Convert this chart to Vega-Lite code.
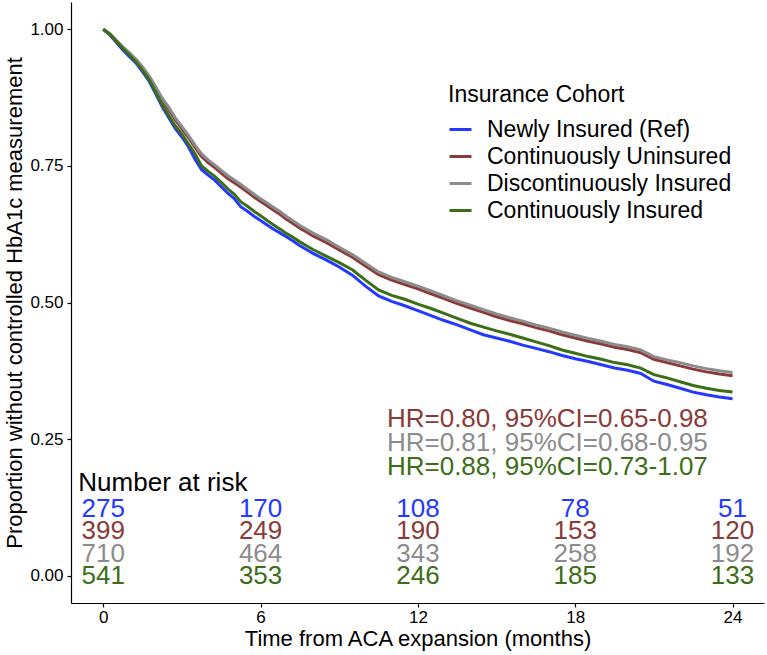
{
  "$schema": "https://vega.github.io/schema/vega-lite/v6.json",
  "width": 693,
  "height": 601,
  "autosize": {"type": "none"},
  "padding": {"left": 71, "top": 2, "right": 3, "bottom": 52},
  "config": {
    "view": {"stroke": null},
    "font": "Liberation Sans",
    "axis": {"grid": false, "domainColor": "black", "tickColor": "black", "labelColor": "black", "titleColor": "black", "titleFontWeight": "normal", "domainWidth": 1.2, "tickWidth": 1.2, "tickSize": 4}
  },
  "datasets": {
    "km": [
      {"t": 0, "Newly Insured (Ref)": 1, "Continuously Uninsured": 1, "Discontinuously Insured": 1, "Continuously Insured": 1},
      {"t": 0.25, "Newly Insured (Ref)": 0.990, "Continuously Uninsured": 0.991, "Discontinuously Insured": 0.992, "Continuously Insured": 0.991},
      {"t": 0.5, "Newly Insured (Ref)": 0.976, "Continuously Uninsured": 0.978, "Discontinuously Insured": 0.980, "Continuously Insured": 0.978},
      {"t": 0.75, "Newly Insured (Ref)": 0.962, "Continuously Uninsured": 0.966, "Discontinuously Insured": 0.968, "Continuously Insured": 0.965},
      {"t": 1.0, "Newly Insured (Ref)": 0.950, "Continuously Uninsured": 0.955, "Discontinuously Insured": 0.957, "Continuously Insured": 0.953},
      {"t": 1.25, "Newly Insured (Ref)": 0.938, "Continuously Uninsured": 0.943, "Discontinuously Insured": 0.945, "Continuously Insured": 0.940},
      {"t": 1.5, "Newly Insured (Ref)": 0.922, "Continuously Uninsured": 0.929, "Discontinuously Insured": 0.931, "Continuously Insured": 0.925},
      {"t": 1.75, "Newly Insured (Ref)": 0.905, "Continuously Uninsured": 0.913, "Discontinuously Insured": 0.915, "Continuously Insured": 0.908},
      {"t": 2.0, "Newly Insured (Ref)": 0.882, "Continuously Uninsured": 0.892, "Discontinuously Insured": 0.895, "Continuously Insured": 0.885},
      {"t": 2.25, "Newly Insured (Ref)": 0.858, "Continuously Uninsured": 0.871, "Discontinuously Insured": 0.874, "Continuously Insured": 0.862},
      {"t": 2.5, "Newly Insured (Ref)": 0.838, "Continuously Uninsured": 0.853, "Discontinuously Insured": 0.857, "Continuously Insured": 0.842},
      {"t": 2.75, "Newly Insured (Ref)": 0.818, "Continuously Uninsured": 0.834, "Discontinuously Insured": 0.838, "Continuously Insured": 0.823},
      {"t": 3.0, "Newly Insured (Ref)": 0.803, "Continuously Uninsured": 0.818, "Discontinuously Insured": 0.822, "Continuously Insured": 0.808},
      {"t": 3.25, "Newly Insured (Ref)": 0.785, "Continuously Uninsured": 0.802, "Discontinuously Insured": 0.806, "Continuously Insured": 0.790},
      {"t": 3.5, "Newly Insured (Ref)": 0.762, "Continuously Uninsured": 0.784, "Discontinuously Insured": 0.788, "Continuously Insured": 0.772},
      {"t": 3.75, "Newly Insured (Ref)": 0.743, "Continuously Uninsured": 0.767, "Discontinuously Insured": 0.772, "Continuously Insured": 0.750},
      {"t": 4.0, "Newly Insured (Ref)": 0.733, "Continuously Uninsured": 0.756, "Discontinuously Insured": 0.761, "Continuously Insured": 0.740},
      {"t": 4.25, "Newly Insured (Ref)": 0.724, "Continuously Uninsured": 0.747, "Discontinuously Insured": 0.752, "Continuously Insured": 0.731},
      {"t": 4.5, "Newly Insured (Ref)": 0.712, "Continuously Uninsured": 0.737, "Discontinuously Insured": 0.742, "Continuously Insured": 0.720},
      {"t": 4.75, "Newly Insured (Ref)": 0.700, "Continuously Uninsured": 0.727, "Discontinuously Insured": 0.732, "Continuously Insured": 0.708},
      {"t": 5.0, "Newly Insured (Ref)": 0.690, "Continuously Uninsured": 0.719, "Discontinuously Insured": 0.724, "Continuously Insured": 0.698},
      {"t": 5.25, "Newly Insured (Ref)": 0.675, "Continuously Uninsured": 0.711, "Discontinuously Insured": 0.716, "Continuously Insured": 0.684},
      {"t": 5.5, "Newly Insured (Ref)": 0.667, "Continuously Uninsured": 0.702, "Discontinuously Insured": 0.707, "Continuously Insured": 0.676},
      {"t": 5.75, "Newly Insured (Ref)": 0.658, "Continuously Uninsured": 0.693, "Discontinuously Insured": 0.698, "Continuously Insured": 0.667},
      {"t": 6.0, "Newly Insured (Ref)": 0.650, "Continuously Uninsured": 0.685, "Discontinuously Insured": 0.690, "Continuously Insured": 0.659},
      {"t": 6.25, "Newly Insured (Ref)": 0.642, "Continuously Uninsured": 0.677, "Discontinuously Insured": 0.682, "Continuously Insured": 0.650},
      {"t": 6.5, "Newly Insured (Ref)": 0.634, "Continuously Uninsured": 0.669, "Discontinuously Insured": 0.674, "Continuously Insured": 0.642},
      {"t": 6.75, "Newly Insured (Ref)": 0.627, "Continuously Uninsured": 0.661, "Discontinuously Insured": 0.666, "Continuously Insured": 0.634},
      {"t": 7.0, "Newly Insured (Ref)": 0.620, "Continuously Uninsured": 0.652, "Discontinuously Insured": 0.657, "Continuously Insured": 0.626},
      {"t": 7.25, "Newly Insured (Ref)": 0.612, "Continuously Uninsured": 0.644, "Discontinuously Insured": 0.649, "Continuously Insured": 0.619},
      {"t": 7.5, "Newly Insured (Ref)": 0.604, "Continuously Uninsured": 0.636, "Discontinuously Insured": 0.641, "Continuously Insured": 0.611},
      {"t": 7.75, "Newly Insured (Ref)": 0.597, "Continuously Uninsured": 0.629, "Discontinuously Insured": 0.634, "Continuously Insured": 0.604},
      {"t": 8.0, "Newly Insured (Ref)": 0.590, "Continuously Uninsured": 0.622, "Discontinuously Insured": 0.627, "Continuously Insured": 0.597},
      {"t": 8.5, "Newly Insured (Ref)": 0.578, "Continuously Uninsured": 0.610, "Discontinuously Insured": 0.615, "Continuously Insured": 0.585},
      {"t": 9.0, "Newly Insured (Ref)": 0.565, "Continuously Uninsured": 0.596, "Discontinuously Insured": 0.601, "Continuously Insured": 0.573},
      {"t": 9.5, "Newly Insured (Ref)": 0.550, "Continuously Uninsured": 0.583, "Discontinuously Insured": 0.588, "Continuously Insured": 0.560},
      {"t": 10.0, "Newly Insured (Ref)": 0.530, "Continuously Uninsured": 0.567, "Discontinuously Insured": 0.572, "Continuously Insured": 0.541},
      {"t": 10.5, "Newly Insured (Ref)": 0.512, "Continuously Uninsured": 0.551, "Discontinuously Insured": 0.556, "Continuously Insured": 0.523},
      {"t": 11.0, "Newly Insured (Ref)": 0.502, "Continuously Uninsured": 0.541, "Discontinuously Insured": 0.546, "Continuously Insured": 0.513},
      {"t": 11.5, "Newly Insured (Ref)": 0.494, "Continuously Uninsured": 0.533, "Discontinuously Insured": 0.538, "Continuously Insured": 0.506},
      {"t": 12.0, "Newly Insured (Ref)": 0.485, "Continuously Uninsured": 0.525, "Discontinuously Insured": 0.530, "Continuously Insured": 0.497},
      {"t": 12.5, "Newly Insured (Ref)": 0.476, "Continuously Uninsured": 0.516, "Discontinuously Insured": 0.521, "Continuously Insured": 0.489},
      {"t": 13.0, "Newly Insured (Ref)": 0.467, "Continuously Uninsured": 0.507, "Discontinuously Insured": 0.512, "Continuously Insured": 0.480},
      {"t": 13.5, "Newly Insured (Ref)": 0.459, "Continuously Uninsured": 0.498, "Discontinuously Insured": 0.503, "Continuously Insured": 0.471},
      {"t": 14.0, "Newly Insured (Ref)": 0.450, "Continuously Uninsured": 0.490, "Discontinuously Insured": 0.495, "Continuously Insured": 0.462},
      {"t": 14.5, "Newly Insured (Ref)": 0.441, "Continuously Uninsured": 0.482, "Discontinuously Insured": 0.487, "Continuously Insured": 0.455},
      {"t": 15.0, "Newly Insured (Ref)": 0.435, "Continuously Uninsured": 0.474, "Discontinuously Insured": 0.479, "Continuously Insured": 0.448},
      {"t": 15.5, "Newly Insured (Ref)": 0.429, "Continuously Uninsured": 0.467, "Discontinuously Insured": 0.472, "Continuously Insured": 0.442},
      {"t": 16.0, "Newly Insured (Ref)": 0.422, "Continuously Uninsured": 0.461, "Discontinuously Insured": 0.466, "Continuously Insured": 0.435},
      {"t": 16.5, "Newly Insured (Ref)": 0.416, "Continuously Uninsured": 0.454, "Discontinuously Insured": 0.459, "Continuously Insured": 0.428},
      {"t": 17.0, "Newly Insured (Ref)": 0.410, "Continuously Uninsured": 0.448, "Discontinuously Insured": 0.453, "Continuously Insured": 0.421},
      {"t": 17.5, "Newly Insured (Ref)": 0.403, "Continuously Uninsured": 0.441, "Discontinuously Insured": 0.446, "Continuously Insured": 0.413},
      {"t": 18.0, "Newly Insured (Ref)": 0.397, "Continuously Uninsured": 0.435, "Discontinuously Insured": 0.440, "Continuously Insured": 0.407},
      {"t": 18.5, "Newly Insured (Ref)": 0.392, "Continuously Uninsured": 0.429, "Discontinuously Insured": 0.434, "Continuously Insured": 0.401},
      {"t": 19.0, "Newly Insured (Ref)": 0.386, "Continuously Uninsured": 0.424, "Discontinuously Insured": 0.429, "Continuously Insured": 0.396},
      {"t": 19.5, "Newly Insured (Ref)": 0.380, "Continuously Uninsured": 0.418, "Discontinuously Insured": 0.423, "Continuously Insured": 0.390},
      {"t": 20.0, "Newly Insured (Ref)": 0.376, "Continuously Uninsured": 0.414, "Discontinuously Insured": 0.419, "Continuously Insured": 0.386},
      {"t": 20.5, "Newly Insured (Ref)": 0.370, "Continuously Uninsured": 0.408, "Discontinuously Insured": 0.413, "Continuously Insured": 0.380},
      {"t": 21.0, "Newly Insured (Ref)": 0.356, "Continuously Uninsured": 0.396, "Discontinuously Insured": 0.401, "Continuously Insured": 0.368},
      {"t": 21.5, "Newly Insured (Ref)": 0.350, "Continuously Uninsured": 0.390, "Discontinuously Insured": 0.395, "Continuously Insured": 0.362},
      {"t": 22.0, "Newly Insured (Ref)": 0.343, "Continuously Uninsured": 0.384, "Discontinuously Insured": 0.390, "Continuously Insured": 0.355},
      {"t": 22.5, "Newly Insured (Ref)": 0.336, "Continuously Uninsured": 0.378, "Discontinuously Insured": 0.384, "Continuously Insured": 0.348},
      {"t": 23.0, "Newly Insured (Ref)": 0.331, "Continuously Uninsured": 0.373, "Discontinuously Insured": 0.379, "Continuously Insured": 0.343},
      {"t": 23.5, "Newly Insured (Ref)": 0.327, "Continuously Uninsured": 0.369, "Discontinuously Insured": 0.375, "Continuously Insured": 0.339},
      {"t": 24.0, "Newly Insured (Ref)": 0.324, "Continuously Uninsured": 0.366, "Discontinuously Insured": 0.372, "Continuously Insured": 0.336}
    ],
    "risk": [
      {"cohort": "Newly Insured (Ref)", "time": 0, "n": 275},
      {"cohort": "Newly Insured (Ref)", "time": 6, "n": 170},
      {"cohort": "Newly Insured (Ref)", "time": 12, "n": 108},
      {"cohort": "Newly Insured (Ref)", "time": 18, "n": 78},
      {"cohort": "Newly Insured (Ref)", "time": 24, "n": 51},
      {"cohort": "Continuously Uninsured", "time": 0, "n": 399},
      {"cohort": "Continuously Uninsured", "time": 6, "n": 249},
      {"cohort": "Continuously Uninsured", "time": 12, "n": 190},
      {"cohort": "Continuously Uninsured", "time": 18, "n": 153},
      {"cohort": "Continuously Uninsured", "time": 24, "n": 120},
      {"cohort": "Discontinuously Insured", "time": 0, "n": 710},
      {"cohort": "Discontinuously Insured", "time": 6, "n": 464},
      {"cohort": "Discontinuously Insured", "time": 12, "n": 343},
      {"cohort": "Discontinuously Insured", "time": 18, "n": 258},
      {"cohort": "Discontinuously Insured", "time": 24, "n": 192},
      {"cohort": "Continuously Insured", "time": 0, "n": 541},
      {"cohort": "Continuously Insured", "time": 6, "n": 353},
      {"cohort": "Continuously Insured", "time": 12, "n": 246},
      {"cohort": "Continuously Insured", "time": 18, "n": 185},
      {"cohort": "Continuously Insured", "time": 24, "n": 133}
    ],
    "hr": [
      {"cohort": "Continuously Uninsured", "label": "HR=0.80, 95%CI=0.65-0.98"},
      {"cohort": "Discontinuously Insured", "label": "HR=0.81, 95%CI=0.68-0.95"},
      {"cohort": "Continuously Insured", "label": "HR=0.88, 95%CI=0.73-1.07"}
    ]
  },
  "layer": [
    {
      "layer": [
        {
          "data": {"name": "km"},
          "transform": [{"fold": ["Newly Insured (Ref)", "Continuously Uninsured", "Discontinuously Insured", "Continuously Insured"], "as": ["cohort", "surv"]}],
          "mark": {"type": "line", "interpolate": "linear", "strokeWidth": 3},
          "encoding": {
            "x": {"field": "t", "type": "quantitative", "title": "Time from ACA expansion (months)",
                  "scale": {"domain": [-1.23, 25.2], "nice": false, "zero": false},
                  "axis": {"values": [0, 6, 12, 18, 24], "labelFontSize": 17, "titleFontSize": 22, "labelPadding": 2, "titlePadding": 3, "labelFlush": false}},
            "y": {"field": "surv", "type": "quantitative", "title": "Proportion without controlled HbA1c measurement",
                  "scale": {"domain": [-0.05, 1.05], "nice": false, "zero": false},
                  "axis": {"values": [0, 0.25, 0.5, 0.75, 1], "format": ".2f", "labelFontSize": 17, "titleFontSize": 22, "labelPadding": 4, "titlePadding": 3, "labelFlush": false}},
            "color": {"field": "cohort", "type": "nominal",
                      "scale": {"domain": ["Newly Insured (Ref)", "Continuously Uninsured", "Discontinuously Insured", "Continuously Insured"], "range": ["#2439FF", "#8B3A3A", "#8C8C8C", "#3B6E16"]},
                      "legend": {"title": "Insurance Cohort", "orient": "none", "legendX": 377, "legendY": 82, "symbolType": "stroke", "symbolSize": 484, "symbolStrokeWidth": 3, "titleFontSize": 23, "titleFontWeight": "normal", "titleColor": "black", "labelFontSize": 23, "labelColor": "black", "labelOffset": 14, "rowPadding": 2, "titlePadding": 10, "labelLimit": 400}}
          }
        },
        {
          "data": {"values": [{}]},
          "mark": {"type": "text", "text": "Number at risk", "align": "left", "baseline": "middle", "fontSize": 26, "color": "black"},
          "encoding": {"x": {"datum": -0.95}, "y": {"datum": 0.17}}
        }
      ]
    },
    {
      "data": {"name": "risk"},
      "mark": {"type": "text", "align": "center", "baseline": "middle", "fontSize": 26},
      "encoding": {
        "x": {"field": "time", "type": "quantitative", "title": "Time from ACA expansion (months)", "scale": {"domain": [-1.23, 25.2], "nice": false, "zero": false}},
        "y": {"field": "cohort", "type": "nominal", "scale": {"type": "point", "domain": ["Newly Insured (Ref)", "Continuously Uninsured", "Discontinuously Insured", "Continuously Insured"], "range": [507, 574], "padding": 0}, "axis": null},
        "text": {"field": "n", "type": "quantitative"},
        "color": {"field": "cohort", "type": "nominal", "scale": {"domain": ["Newly Insured (Ref)", "Continuously Uninsured", "Discontinuously Insured", "Continuously Insured"], "range": ["#2439FF", "#8B3A3A", "#8C8C8C", "#3B6E16"]}, "legend": null}
      }
    },
    {
      "data": {"name": "hr"},
      "mark": {"type": "text", "align": "left", "baseline": "middle", "fontSize": 26},
      "encoding": {
        "x": {"datum": 10.82},
        "y": {"field": "cohort", "type": "nominal", "scale": {"type": "point", "domain": ["Continuously Uninsured", "Discontinuously Insured", "Continuously Insured"], "range": [417, 465], "padding": 0}, "axis": null},
        "text": {"field": "label", "type": "nominal"},
        "color": {"field": "cohort", "type": "nominal", "scale": {"domain": ["Newly Insured (Ref)", "Continuously Uninsured", "Discontinuously Insured", "Continuously Insured"], "range": ["#2439FF", "#8B3A3A", "#8C8C8C", "#3B6E16"]}, "legend": null}
      }
    }
  ],
  "resolve": {"scale": {"y": "independent", "color": "independent"}}
}
